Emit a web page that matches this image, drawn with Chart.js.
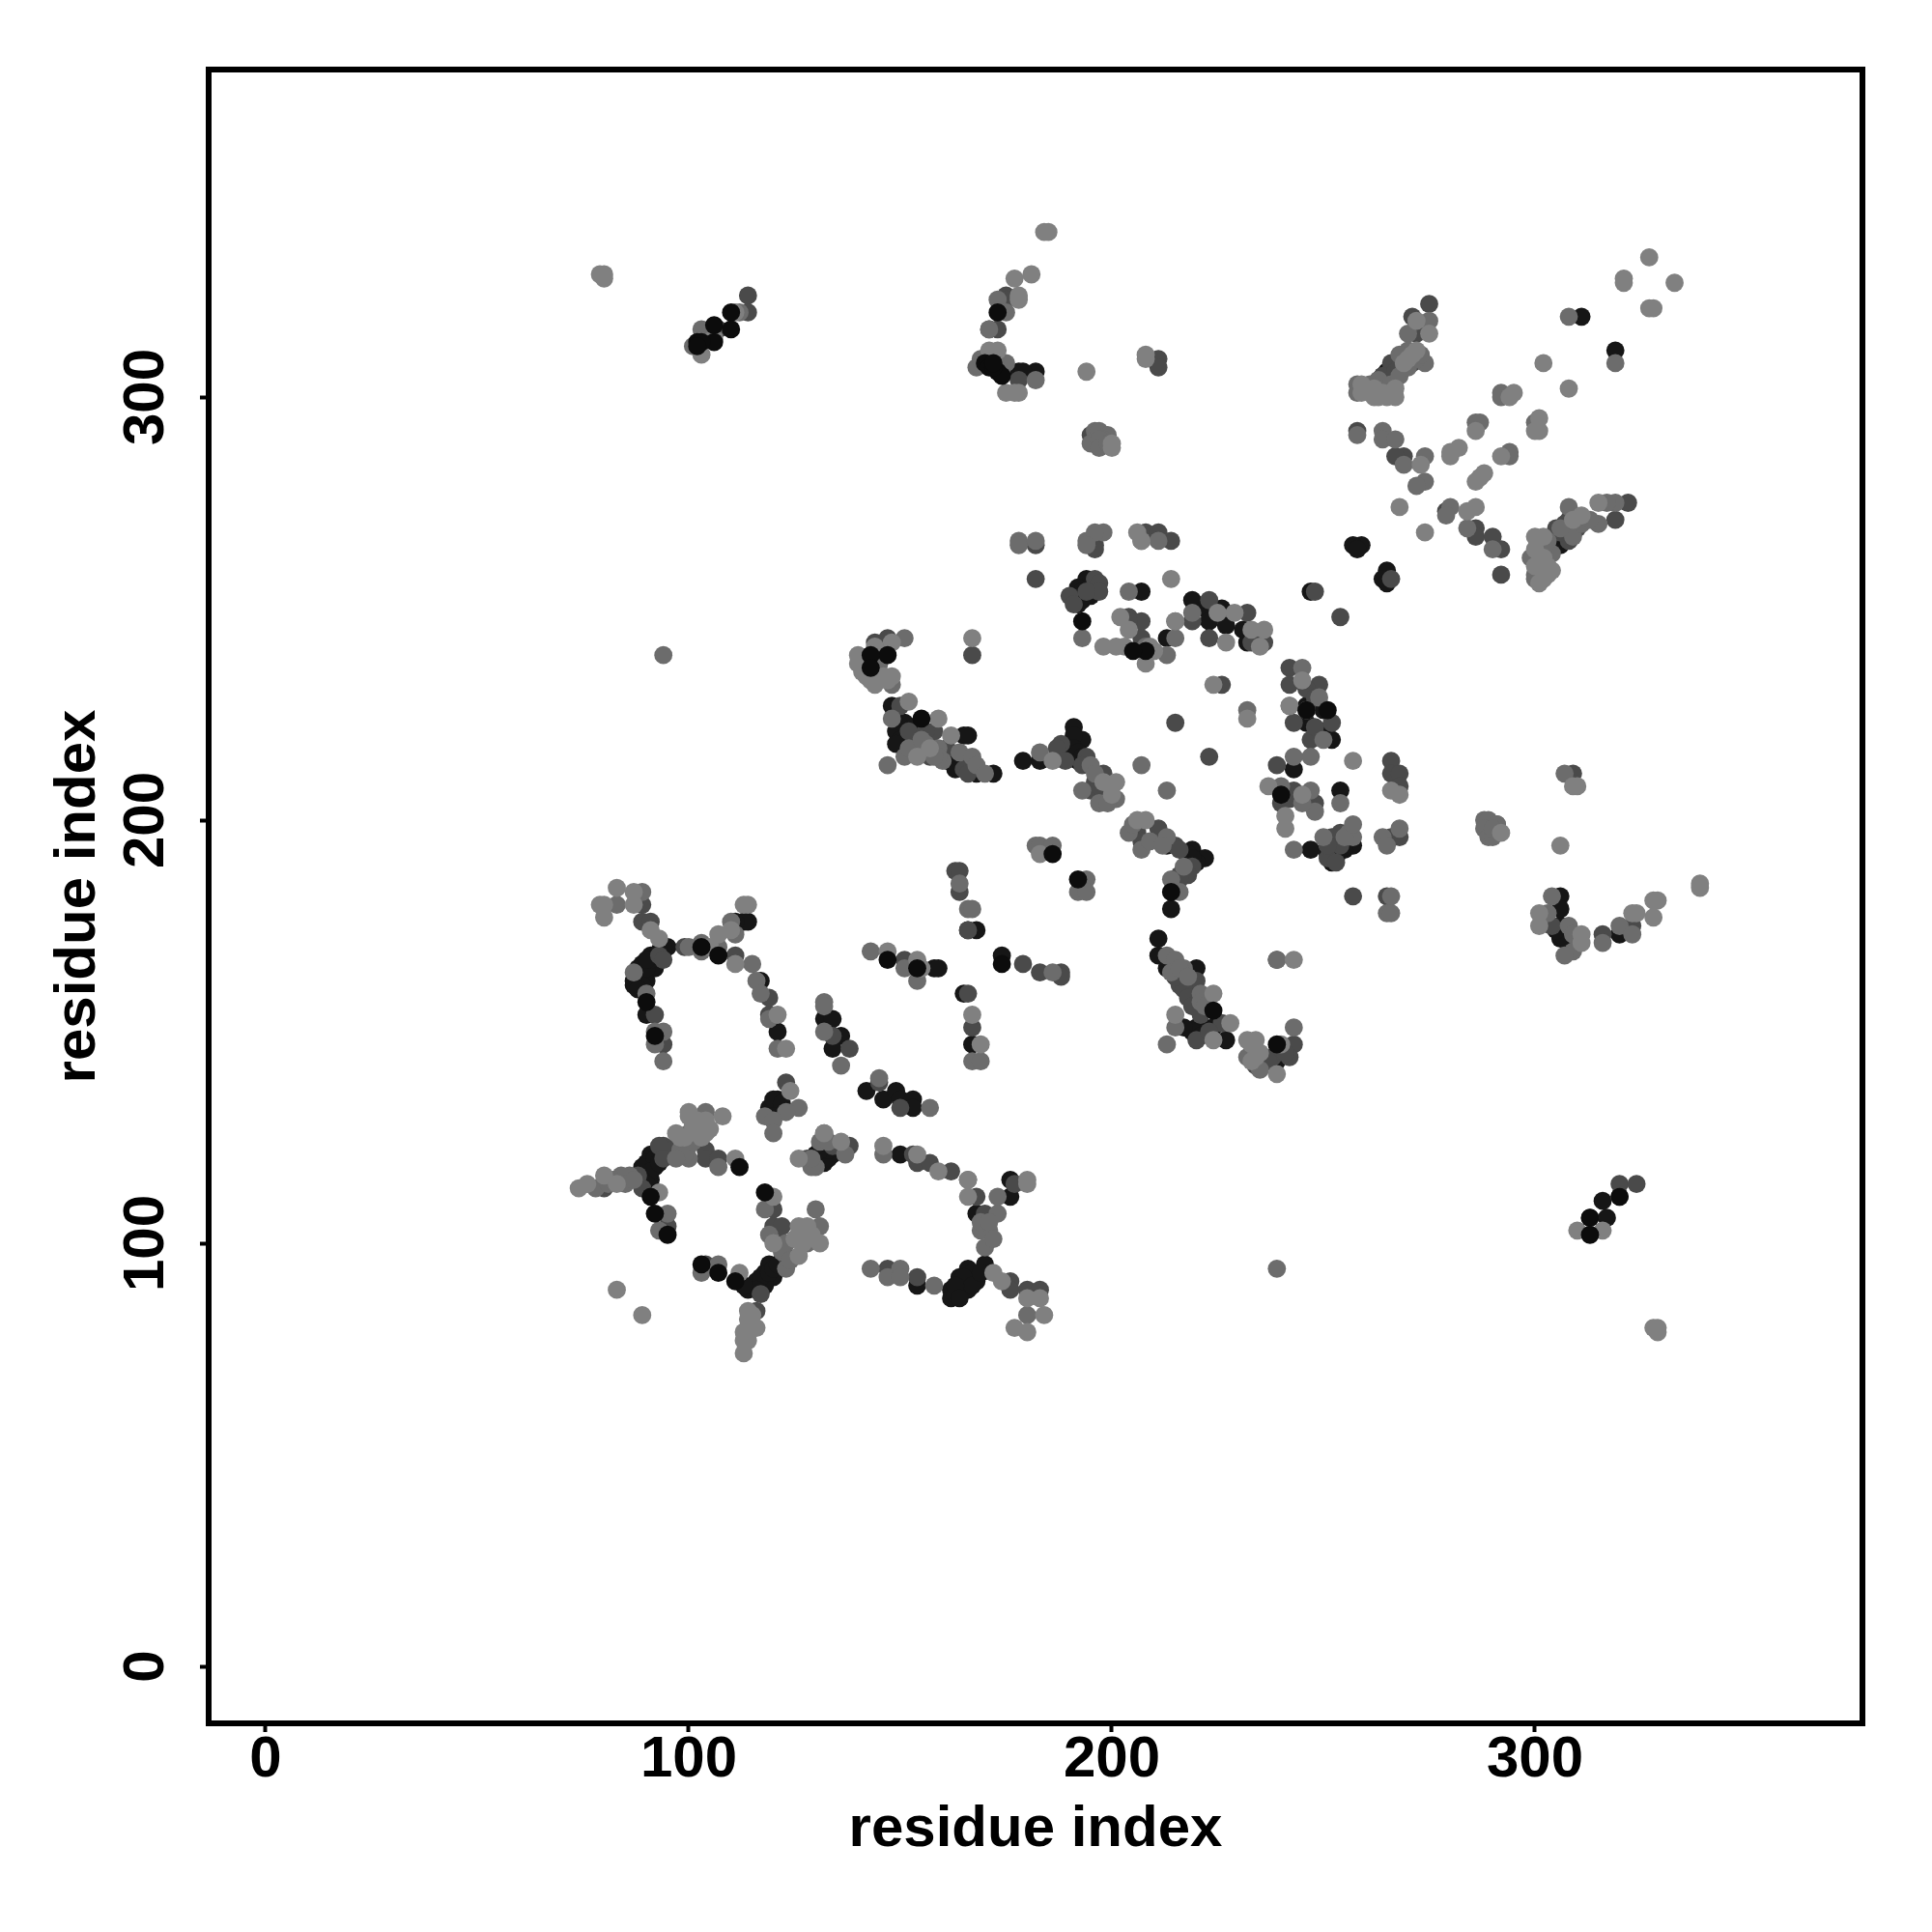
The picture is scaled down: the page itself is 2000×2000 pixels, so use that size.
<!DOCTYPE html>
<html>
<head>
<meta charset="utf-8">
<style>html,body{margin:0;padding:0;background:#fff}canvas{display:block}</style>
<script src="https://cdn.jsdelivr.net/npm/chart.js@4/dist/chart.umd.js"></script>
</head>
<body>
<canvas id="c" width="2000" height="2000"></canvas>
<script>
const tickValues = [0, 100, 200, 300];
const axisTitle = "residue index";

const blackUnder = [[110,320],[110,316],[106,317],[106,313],[102,313],[103,313],[102,312],[173,320],[170,308],[171,307],[173,306],[174,305],[147,239],[143,239],[155,224],[251,226],[246,226],[92,149],[112,118],[92,107],[95,102],[313,106],[313,102],[320,111],[224,155],[239,147],[193,247],[208,240],[205,240],[240,206],[214,183],[186,192],[192,186],[107,168],[103,170],[147,167],[154,165],[174,166],[90,157],[118,112],[91,111],[107,93],[103,95],[111,91],[143,236],[172,307],[172,308]];

const lightPts = [[79,329],[80,329],[80,328],[111,320],[103,310],[106,314],[184,339],[185,339],[181,329],[177,328],[178,324],[178,323],[171,311],[173,311],[175,301],[177,301],[178,301],[194,306],[208,310],[208,309],[200,289],[200,288],[206,268],[207,266],[214,257],[225,249],[229,249],[202,248],[327,333],[321,328],[321,327],[333,327],[327,321],[328,321],[302,308],[308,302],[295,301],[294,300],[301,295],[300,292],[301,292],[286,292],[292,286],[280,286],[280,287],[282,288],[288,282],[286,280],[287,281],[273,284],[284,273],[286,274],[268,274],[274,268],[272,318],[275,315],[272,311],[269,308],[259,303],[263,300],[267,302],[267,300],[262,302],[315,275],[311,272],[309,271],[300,267],[302,267],[300,264],[304,259],[301,256],[302,257],[148,242],[144,241],[140,239],[141,235],[140,237],[144,232],[148,234],[152,228],[159,224],[154,215],[157,217],[162,220],[83,184],[87,183],[79,180],[80,180],[80,177],[87,180],[91,174],[93,172],[107,173],[105,170],[110,174],[113,180],[114,180],[111,166],[154,167],[155,165],[167,243],[198,241],[201,241],[203,241],[204,245],[208,237],[215,247],[227,242],[233,245],[236,245],[235,241],[224,232],[232,224],[245,233],[242,227],[246,226],[237,208],[245,206],[241,201],[241,198],[183,192],[186,214],[200,208],[200,206],[206,200],[208,200],[224,159],[243,167],[257,214],[266,207],[268,206],[310,208],[309,208],[292,197],[306,194],[339,185],[339,184],[301,178],[301,175],[311,173],[311,171],[328,181],[329,181],[323,178],[324,178],[328,177],[121,154],[123,146],[124,136],[100,131],[100,130],[108,130],[104,129],[97,126],[102,126],[104,126],[111,120],[80,116],[83,114],[76,114],[74,113],[93,112],[83,89],[89,83],[126,120],[136,124],[132,126],[146,123],[154,121],[159,117],[166,115],[166,111],[120,111],[128,104],[126,104],[126,102],[131,100],[126,97],[120,100],[112,93],[114,84],[116,80],[114,80],[114,77],[113,77],[113,74],[167,154],[169,147],[215,154],[224,148],[228,152],[232,148],[234,148],[234,144],[239,140],[240,147],[172,93],[174,91],[180,87],[183,87],[184,83],[177,80],[180,79],[180,115],[180,114],[320,111],[316,103],[310,103],[328,80],[329,80],[329,79],[147,169],[101,128],[102,129],[103,128],[101,127],[99,125],[98,125],[103,125],[105,127],[141,238],[142,234],[143,233],[146,234],[147,233],[259,301],[260,302],[261,301],[262,300],[264,301],[265,300],[266,301],[125,101],[127,103],[129,102],[127,100],[114,82],[115,83],[114,79],[113,79],[209,241],[210,240],[301,261],[302,262],[300,260],[303,260],[303,258],[270,309],[271,310],[233,147],[233,143],[235,145],[201,209],[198,209]];

const midPts = [[112,320],[103,316],[101,312],[173,323],[175,320],[171,316],[168,307],[169,309],[175,308],[182,304],[196,292],[197,292],[199,291],[196,289],[198,290],[195,289],[178,266],[178,265],[182,266],[194,266],[198,268],[196,268],[194,265],[207,266],[211,266],[204,254],[219,249],[215,247],[308,319],[319,308],[292,301],[292,300],[286,294],[287,294],[300,294],[294,287],[294,286],[274,286],[274,280],[272,279],[269,284],[264,292],[264,290],[267,290],[258,291],[280,274],[279,272],[284,269],[290,264],[275,318],[270,315],[270,311],[268,310],[274,308],[258,303],[258,301],[263,304],[319,275],[317,275],[308,274],[315,270],[309,267],[301,265],[301,263],[304,263],[302,259],[301,258],[300,258],[300,257],[94,239],[151,243],[145,235],[148,232],[148,224],[147,213],[151,215],[164,216],[159,217],[89,183],[83,180],[87,164],[90,159],[100,170],[103,171],[103,169],[107,170],[110,176],[111,173],[115,166],[116,162],[117,159],[132,157],[143,169],[151,165],[154,162],[164,185],[166,179],[167,179],[167,215],[168,213],[170,211],[193,243],[208,241],[215,243],[213,239],[245,236],[249,229],[232,226],[207,213],[213,207],[242,227],[247,215],[243,215],[250,219],[254,204],[240,208],[247,207],[248,202],[245,204],[243,193],[256,197],[183,216],[195,213],[196,211],[193,207],[197,204],[204,197],[207,193],[213,196],[217,189],[214,186],[216,183],[182,194],[183,194],[186,194],[194,186],[192,183],[194,183],[213,168],[215,167],[217,165],[221,159],[186,164],[288,200],[289,200],[291,199],[288,198],[289,196],[290,196],[268,198],[264,196],[265,194],[257,196],[266,182],[265,178],[266,178],[307,211],[304,182],[303,178],[308,175],[309,173],[309,169],[307,168],[316,171],[320,175],[323,173],[92,150],[94,150],[92,147],[94,143],[119,153],[121,146],[132,156],[132,150],[145,139],[157,132],[126,132],[123,131],[118,130],[120,129],[120,126],[104,131],[100,126],[100,123],[100,120],[107,118],[86,116],[84,116],[78,113],[85,114],[131,124],[132,126],[130,118],[146,121],[118,108],[130,108],[131,104],[128,100],[123,100],[123,94],[107,95],[103,93],[147,92],[143,94],[150,94],[150,92],[158,90],[167,143],[169,143],[215,151],[213,147],[232,144],[235,141],[243,151],[166,115],[173,111],[173,107],[171,103],[169,103],[170,99],[180,83],[239,94],[95,107],[93,103],[136,142],[239,167],[98,122],[99,121],[101,124],[97,120],[82,115],[81,114],[87,115],[129,118],[129,120],[133,124],[137,121],[261,303],[263,302],[265,302],[266,303],[268,305],[270,307],[272,309],[273,310],[301,260],[299,262],[302,264],[303,266],[306,269],[311,270],[313,271],[214,164],[216,165],[218,163],[221,157],[222,156],[160,214],[159,215],[156,218],[158,215],[152,217],[155,219],[201,205],[199,204],[205,199],[209,195],[212,194],[290,198],[169,105],[171,105],[172,101],[122,98],[124,96],[119,102],[197,290],[197,288],[199,289],[250,196],[255,196],[257,199],[145,237]];

const darkPts = [[114,324],[114,320],[107,316],[175,324],[175,323],[171,316],[173,316],[178,304],[211,309],[211,307],[195,291],[182,265],[196,265],[196,264],[208,268],[211,268],[214,266],[182,257],[196,257],[197,256],[197,254],[190,253],[191,251],[194,254],[223,252],[232,249],[204,248],[207,247],[248,254],[254,248],[286,269],[286,267],[290,267],[292,264],[292,258],[279,273],[269,286],[267,286],[258,292],[275,322],[271,319],[272,315],[266,308],[271,308],[265,305],[322,275],[319,271],[308,271],[310,269],[307,268],[308,266],[266,257],[144,242],[147,243],[150,227],[158,221],[158,217],[161,217],[165,212],[89,180],[89,176],[91,176],[93,168],[94,167],[99,170],[111,168],[119,158],[151,167],[163,188],[164,188],[164,183],[167,239],[207,243],[204,247],[219,247],[223,243],[226,232],[236,242],[233,242],[242,236],[242,232],[249,232],[252,223],[243,223],[247,219],[215,223],[223,215],[239,213],[243,207],[248,204],[254,197],[254,194],[251,191],[253,190],[257,182],[188,218],[194,215],[198,211],[195,207],[206,197],[207,195],[211,198],[215,194],[216,193],[219,189],[216,187],[218,187],[216,186],[220,162],[179,166],[183,164],[188,164],[188,163],[166,211],[166,174],[166,159],[239,167],[266,214],[266,211],[268,211],[268,208],[268,196],[266,196],[291,199],[309,211],[265,182],[304,175],[316,173],[323,175],[92,154],[94,147],[119,154],[134,149],[138,146],[145,138],[150,132],[123,138],[104,122],[104,120],[107,120],[97,123],[94,123],[88,116],[89,113],[80,113],[138,123],[134,123],[128,120],[153,121],[154,119],[157,119],[162,117],[120,108],[120,104],[122,104],[122,100],[123,97],[117,88],[104,95],[147,94],[154,92],[116,84],[167,151],[170,107],[168,111],[176,91],[176,89],[180,89],[183,89],[177,114],[221,154],[226,152],[236,144],[238,144],[243,147],[242,144],[320,114],[324,114],[313,106],[95,104],[263,304],[264,305],[267,306],[268,307],[269,309],[270,310],[307,270],[309,270],[305,269],[306,268],[309,268],[95,121],[96,122],[93,123],[94,120],[216,161],[217,160],[218,158],[219,156],[215,163],[187,217],[189,214],[193,213],[196,209],[197,208],[152,221],[156,221],[157,215],[241,145],[220,148],[223,150],[237,143],[234,142],[246,231],[248,222],[248,229],[240,204],[242,205],[252,196],[251,194]];

const blackPts = [[182,306],[178,306],[179,306],[193,252],[192,253],[194,257],[207,254],[219,252],[222,250],[226,250],[311,319],[319,311],[259,265],[257,265],[258,264],[265,259],[264,257],[265,256],[247,254],[305,267],[304,265],[306,265],[148,227],[151,223],[151,220],[154,220],[165,220],[162,215],[164,213],[114,176],[113,176],[111,176],[95,170],[91,168],[89,166],[92,165],[88,165],[90,162],[87,162],[87,161],[117,162],[158,165],[159,165],[166,174],[165,159],[227,246],[223,247],[232,242],[231,245],[213,243],[246,227],[250,226],[246,223],[250,221],[252,219],[243,212],[254,207],[247,193],[251,192],[253,191],[252,193],[256,194],[191,222],[193,219],[179,214],[183,214],[190,218],[190,216],[192,214],[196,207],[172,211],[168,211],[166,220],[213,194],[219,193],[218,191],[222,191],[214,179],[211,172],[211,168],[213,165],[220,165],[215,163],[217,162],[174,168],[168,174],[257,194],[306,182],[306,179],[306,175],[306,172],[309,172],[320,173],[90,154],[121,150],[132,153],[134,153],[136,149],[134,146],[142,136],[146,134],[149,136],[150,134],[153,134],[153,132],[121,134],[119,132],[121,131],[130,121],[134,121],[132,119],[93,121],[91,121],[90,119],[92,118],[90,116],[91,115],[150,121],[119,95],[118,93],[120,92],[115,90],[118,90],[114,89],[154,90],[162,89],[162,87],[164,92],[166,94],[170,95],[167,93],[168,91],[166,89],[167,147],[168,107],[176,115],[176,111],[220,151],[222,151],[224,151],[227,148],[239,143],[317,106],[316,110],[88,163],[89,164],[90,165],[91,167],[92,168],[93,169],[89,161],[88,160],[90,167],[94,170],[89,118],[92,120],[91,117],[93,119],[89,115],[90,114],[116,91],[117,92],[119,93],[120,94],[121,95],[116,89],[113,90],[163,88],[164,90],[165,90],[165,92],[167,90],[163,90],[169,93],[164,87],[306,267],[307,266],[305,265],[303,264],[304,267],[265,306],[266,306],[267,305],[268,306],[264,305],[131,120],[133,120],[133,122],[191,220],[191,217],[192,216],[193,215],[131,122],[149,221],[150,219],[152,219],[153,222],[149,218],[161,214],[163,215],[163,212],[194,255],[192,255],[193,254],[195,253],[192,251],[214,165],[216,163],[218,160],[219,150],[221,149],[217,151],[120,134],[122,133],[120,130],[218,192],[220,190],[219,191],[252,190],[253,192],[255,193],[307,172],[308,171],[305,174]];

const shadeLayers = [
  { pts: blackUnder, shade: "#0c0c0c" },
  { pts: lightPts, shade: "#808080" },
  { pts: midPts, shade: "#6c6c6c" },
  { pts: darkPts, shade: "#4a4a4a" },
  { pts: blackPts, shade: "#161616" }
];

const frame = {
  id: "frame",
  afterDatasetsDraw(chart) {
    const a = chart.chartArea, g = chart.ctx;
    g.save();
    g.strokeStyle = "#000";
    g.lineWidth = 6;
    g.strokeRect(a.left, a.top, a.right - a.left, a.bottom - a.top);
    g.restore();
  }
};

const font = { family: "'Liberation Sans'", weight: "bold", size: 60 };
const gridOpts = { drawOnChartArea: false, drawTicks: true, tickLength: 9, tickColor: "#000", tickWidth: 4 };

new Chart(document.getElementById("c"), {
  type: "scatter",
  data: {
    datasets: shadeLayers.map(l => ({
      data: l.pts.map(p => ({ x: p[0], y: p[1] })),
      backgroundColor: l.shade,
      borderWidth: 0,
      pointRadius: 9.4,
      pointHoverRadius: 9.4
    }))
  },
  options: {
    responsive: false,
    animation: false,
    layout: { padding: { left: 0, right: 72, top: 72, bottom: 0 } },
    plugins: { legend: { display: false }, tooltip: { enabled: false } },
    scales: {
      x: {
        type: "linear", min: -13.47, max: 377.4,
        afterBuildTicks: s => { s.ticks = tickValues.map(v => ({ value: v })); },
        afterFit: s => { s.height = 216; },
        grid: gridOpts,
        border: { display: false },
        ticks: { color: "#000", font, padding: -7, maxRotation: 0, minRotation: 0, autoSkip: false },
        title: { display: true, text: axisTitle, color: "#000", font, padding: { top: 0, bottom: 70 } }
      },
      y: {
        type: "linear", min: -13.47, max: 377.4,
        afterBuildTicks: s => { s.ticks = tickValues.map(v => ({ value: v })); },
        afterFit: s => { s.width = 216; },
        grid: gridOpts,
        border: { display: false },
        ticks: { color: "#000", font, padding: 4, minRotation: 90, maxRotation: 90, crossAlign: "center", autoSkip: false },
        title: { display: true, text: axisTitle, color: "#000", font, padding: { top: 45, bottom: 0 } }
      }
    }
  },
  plugins: [frame]
});
</script>
</body>
</html>
